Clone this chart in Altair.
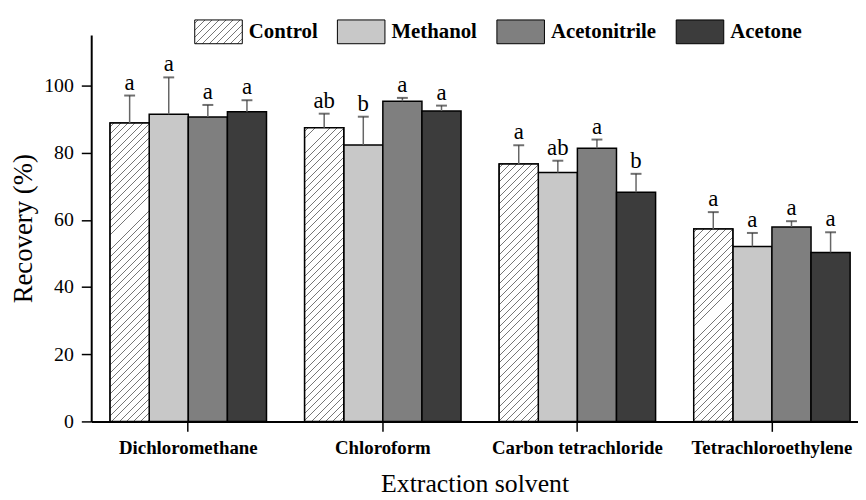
import altair as alt
import pandas as pd

# ---------------- data ----------------
solvents = ["Dichloromethane", "Chloroform", "Carbon tetrachloride", "Tetrachloroethylene"]
series = ["Control", "Methanol", "Acetonitrile", "Acetone"]

control = [88.8, 87.4, 76.6, 57.3]
methanol = [91.4, 82.3, 74.1, 52.1]
acetonitrile = [90.6, 95.3, 81.3, 57.9]
acetone = [92.2, 92.4, 68.2, 50.3]

err_control = [8.2, 4.2, 5.6, 5.0]
err_methanol = [11.0, 8.4, 3.5, 4.0]
err_acetonitrile = [3.6, 1.0, 2.6, 1.7]
err_acetone = [3.4, 1.6, 5.5, 6.0]

let_control = ["a", "ab", "a", "a"]
let_methanol = ["a", "b", "ab", "a"]
let_acetonitrile = ["a", "a", "a", "a"]
let_acetone = ["a", "a", "b", "a"]

colors = ["#ffffff", "#c8c8c8", "#7f7f7f", "#3c3c3c"]
y_ticks = [0, 20, 40, 60, 80, 100]

# ---------------- table ----------------
vals = [control, methanol, acetonitrile, acetone]
errs = [err_control, err_methanol, err_acetonitrile, err_acetone]
lets = [let_control, let_methanol, let_acetonitrile, let_acetone]
rows = []
for si, s in enumerate(series):
    for ci, c in enumerate(solvents):
        rows.append({"solvent": c, "series": s, "value": vals[si][ci],
                     "top": vals[si][ci] + errs[si][ci], "letter": lets[si][ci]})
df = pd.DataFrame(rows)

# ---------------- layout ----------------
PLOT_W, PLOT_H, YMAX = 774, 390, 115
P_IN, P_OUT, ALIGN = 0.196, 0.0687, 0.706
FONT = "Liberation Serif"
HATCH = "#767676"

step = PLOT_W / (len(solvents) - P_IN + 2 * P_OUT)
bar_w = step * (1 - P_IN) / len(series)
px_per_unit = PLOT_H / YMAX


def hatch_parts(w, h, period=7.3, lw=1.0, color=HATCH):
    total = w + h
    k = total / (w * w + h * h)
    stops = [(0, "white")]
    n = int(total / period) + 1
    e = lw / total
    for i in range(n):
        c = (i + 0.5) * period / total
        a, b = round(c - e / 2, 5), round(c + e / 2, 5)
        if b >= 1:
            break
        stops += [(a, "white"), (a, color), (b, color), (b, "white")]
    stops.append((1, "white"))
    return stops, k * w, k * h


def hatch(w, h, **kw):
    stops, x2, y2 = hatch_parts(w, h, **kw)
    return alt.LinearGradient(gradient="linear",
                              stops=[{"offset": o, "color": c} for o, c in stops],
                              x1=0, y1=0, x2=x2, y2=y2)


def hatch_expr(w, h, **kw):
    stops, x2, y2 = hatch_parts(w, h, **kw)
    st = ",".join("{offset:%s,color:'%s'}" % (o, c) for o, c in stops)
    return ("{gradient:'linear',x1:0,y1:0,x2:%.5f,y2:%.5f,stops:[%s]}"
            % (x2, y2, st))


legend_fill = [{"expr": hatch_expr(48, 24, period=7.0)}] + colors[1:]

xscale = alt.Scale(type="band", paddingInner=P_IN, paddingOuter=P_OUT, align=ALIGN)
oscale = alt.Scale(type="band", paddingInner=0, paddingOuter=0)
yscale = alt.Scale(domain=[0, YMAX], nice=False)

base = alt.Chart(df).encode(
    x=alt.X("solvent:N", sort=solvents, scale=xscale, title="Extraction solvent",
            axis=alt.Axis(labelAngle=0, labelFont=FONT, labelFontWeight="bold",
                          labelFontSize=19, labelColor="black", labelPadding=7,
                          tickSize=10, tickWidth=1.5, tickColor="black",
                          domainColor="black", domainWidth=2,
                          titleFont=FONT, titleFontSize=26, titleFontWeight="normal",
                          titleColor="black", titleY=71, titleBaseline="alphabetic")),
    xOffset=alt.XOffset("series:N", sort=series, scale=oscale),
)

legend = alt.Legend(
    title=None, orient="none", legendX=104, legendY=-28, direction="horizontal",
    symbolType="M-1,-0.5H1V0.5H-1Z", symbolSize=48 * 48,
    symbolStrokeColor="black", symbolStrokeWidth=1, symbolOpacity=1,
    labelFont=FONT, labelFontWeight="bold", labelFontSize=21, labelColor="black",
    labelOffset=6, columnPadding=17,
)

bars = base.mark_bar(stroke="black", strokeWidth=1.5, opacity=1).encode(
    y=alt.Y("value:Q", scale=yscale, title="Recovery (%)",
            axis=alt.Axis(values=y_ticks, grid=False, labelFont=FONT, labelFontSize=20,
                          labelColor="black", labelPadding=8, tickSize=10, tickWidth=1.5,
                          tickColor="black", domainColor="black", domainWidth=2,
                          titleFont=FONT, titleFontSize=27, titleFontWeight="normal",
                          titleColor="black", titleX=-68, titleY=PLOT_H / 2,
                          titleBaseline="middle")),
    fill=alt.Fill("series:N", sort=series,
                  scale=alt.Scale(domain=series, range=legend_fill), legend=legend),
)

hatch_layers = []
for ci, c in enumerate(solvents):
    g = hatch(bar_w, control[ci] * px_per_unit)
    hatch_layers.append(
        base.transform_filter(
            (alt.datum.solvent == c) & (alt.datum.series == "Control")
        ).mark_bar(fill=g, stroke="black", strokeWidth=1.5).encode(
            y=alt.Y("value:Q", scale=yscale)
        )
    )

err_lines = base.mark_rule(color="#666666", strokeWidth=1.5).encode(
    y=alt.Y("value:Q", scale=yscale), y2="top:Q")
err_caps = base.mark_tick(color="#333333", thickness=2, size=11).encode(
    y=alt.Y("top:Q", scale=yscale))
letters = base.mark_text(font=FONT, fontSize=23, baseline="alphabetic", dy=-6,
                         color="black").encode(
    y=alt.Y("top:Q", scale=yscale), text="letter:N")

chart = alt.layer(bars, *hatch_layers, err_lines, err_caps, letters).properties(
    width=PLOT_W, height=PLOT_H,
    autosize=alt.AutoSizeParams(type="none"),
    padding={"left": 84, "top": 25, "right": 0, "bottom": 77},
    background="white",
).configure_view(stroke=None)

chart.save("out.html", embed_options={"renderer": "svg", "actions": False})
